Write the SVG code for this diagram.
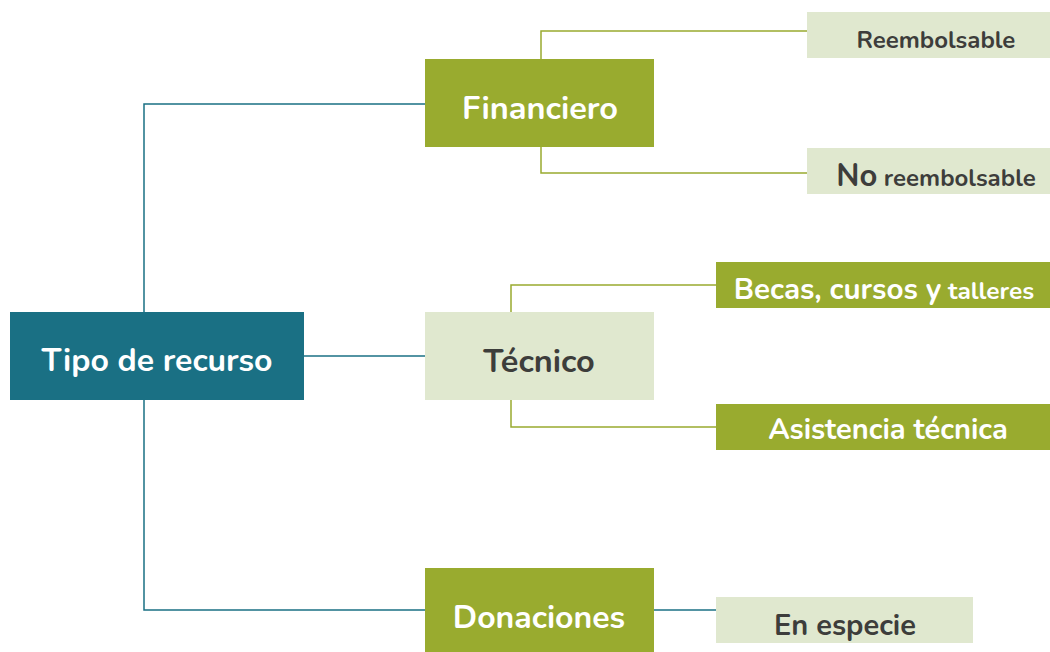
<svg xmlns="http://www.w3.org/2000/svg" width="1050" height="652" viewBox="0 0 1050 652">
<style>
text{font-family:"Nunito","Open Sans","Lato",sans-serif;font-weight:700;text-anchor:middle}
.w{fill:#ffffff}
.d{fill:#3d3d3b}
.b{fill:none;stroke:#1a7084;stroke-width:1.5}
.g{fill:none;stroke:#99ab2f;stroke-width:1.5}
.teal{fill:#1a7084}
.green{fill:#99ab2f}
.pale{fill:#e0e8cf}
</style>
<rect width="1050" height="652" fill="#ffffff"/>
<g id="connectors">
<path class="b" d="M144 312 V104 H425"/>
<path class="b" d="M304 356 H425"/>
<path class="b" d="M144 400 V610 H425"/>
<path class="b" d="M654 610 H716"/>
<path class="g" d="M541 59 V31 H807"/>
<path class="g" d="M541 147 V173 H807"/>
<path class="g" d="M511 312 V285 H716"/>
<path class="g" d="M511 400 V427 H716"/>
</g>
<g id="tipo"><rect class="teal" x="10" y="312" width="294" height="88"/><text class="w" x="157" y="371" font-size="32">Tipo de recurso</text></g>
<g id="financiero"><rect class="green" x="425" y="59" width="229" height="88"/><text class="w" x="540" y="119" font-size="32.5">Financiero</text></g>
<g id="tecnico"><rect class="pale" x="425" y="312" width="229" height="88"/><text class="d" x="539" y="372" font-size="32.5">Técnico</text></g>
<g id="donaciones"><rect class="green" x="425" y="568" width="229" height="84"/><text class="w" x="539" y="628" font-size="32">Donaciones</text></g>
<g id="reembolsable"><rect class="pale" x="807" y="12" width="243" height="46"/><text class="d" x="936" y="48" font-size="24">Reembolsable</text></g>
<g id="noreembolsable"><rect class="pale" x="807" y="148" width="243" height="46"/><text class="d" x="936" y="186"><tspan font-size="31">No</tspan><tspan font-size="24"> reembolsable</tspan></text></g>
<g id="becas"><rect class="green" x="716" y="262" width="334" height="46"/><text class="w" x="884" y="299"><tspan font-size="29.5">Becas, cursos y</tspan><tspan font-size="24.5"> talleres</tspan></text></g>
<g id="asistencia"><rect class="green" x="716" y="404" width="334" height="46"/><text class="w" x="888" y="439" font-size="29">Asistencia técnica</text></g>
<g id="especie"><rect class="pale" x="716" y="597" width="257" height="46"/><text class="d" x="845" y="635" font-size="29">En especie</text></g>
</svg>
